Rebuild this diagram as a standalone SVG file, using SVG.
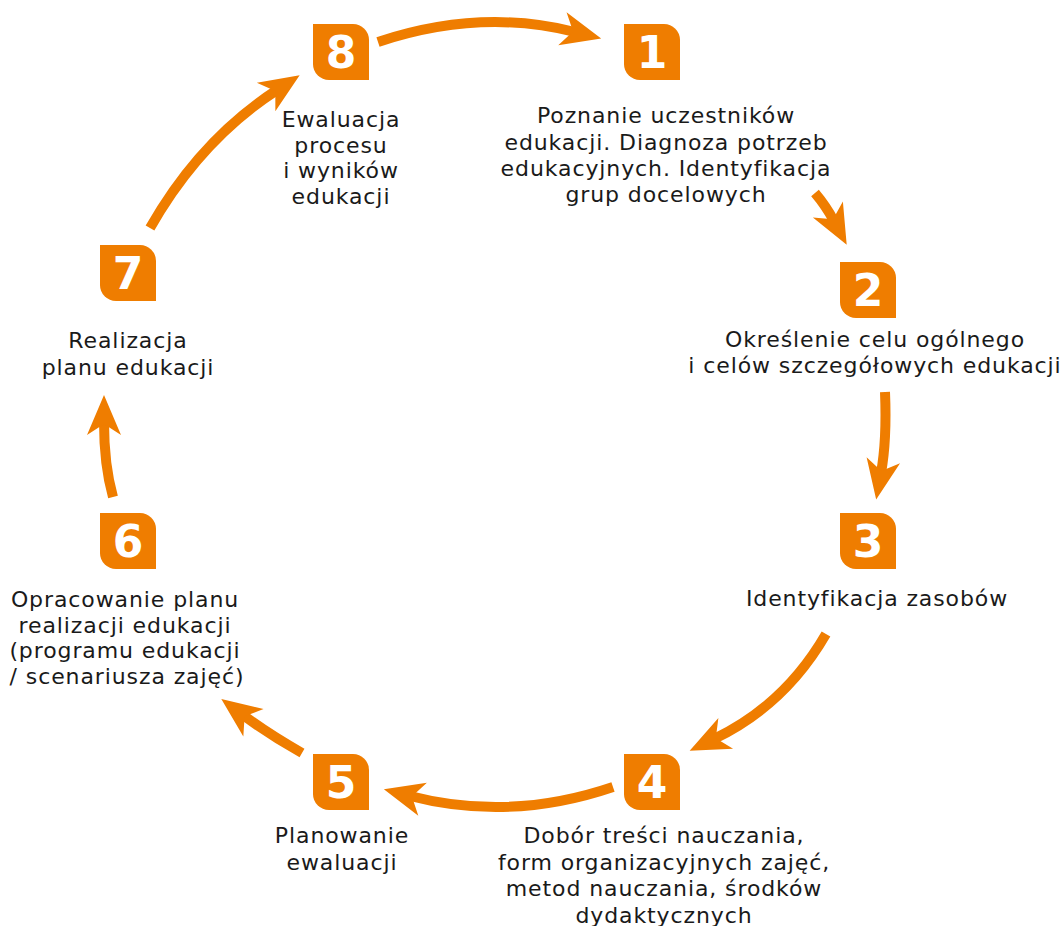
<svg xmlns="http://www.w3.org/2000/svg" xmlns:xlink="http://www.w3.org/1999/xlink" width="1063" height="926" viewBox="0 0 1063 926">
  <style>
    .badge { fill: #EF7D00; }
    .num { font-family: "DejaVu Sans", "Liberation Sans", sans-serif; font-weight: bold; font-size: 44px; fill: #ffffff; text-anchor: middle; }
    .lbl { font-family: "DejaVu Sans", "Liberation Sans", sans-serif; font-size: 22px; letter-spacing: 0.9px; fill: #1a1a1a; text-anchor: middle; }
    .flow { fill: none; stroke: #EF7D00; stroke-width: 10; stroke-linecap: butt; marker-end: url(#head); }
  </style>
  <defs>
    <!-- badge: square with rounded top-right and bottom-left corners -->
    <path id="tile" d="M0,0 H40 A16,16 0 0 1 56,16 V56 H16 A16,16 0 0 1 0,40 Z"/>
    <marker id="head" markerUnits="userSpaceOnUse" viewBox="-44 -22 48 44" markerWidth="48" markerHeight="44" refX="-27" refY="0" orient="auto">
      <path d="M0,0 L-40,-17 L-29,0 L-40,17 Z" fill="#EF7D00"/>
    </marker>
  </defs>
  <rect width="1063" height="926" fill="#ffffff"/>

  <g id="connectors">
    <path class="flow" d="M378,42 Q480,8 575,32"/>
    <path class="flow" d="M815,193 Q826,206 834,221"/>
    <path class="flow" d="M885,392 Q887,440 881,473"/>
    <path class="flow" d="M826,634 Q785,705 714,739"/>
    <path class="flow" d="M613,787 Q510,822 410,796"/>
    <path class="flow" d="M302,753 Q270,735 243,715"/>
    <path class="flow" d="M113,497 Q104,465 104,422"/>
    <path class="flow" d="M150,228 Q200,140 277,90"/>
  </g>

  <g id="step1">
    <use xlink:href="#tile" x="624" y="24" class="badge"/>
    <text class="num" x="652" y="68">1</text>
    <text class="lbl" x="666" y="123">Poznanie uczestników</text>
    <text class="lbl" x="666" y="149.5">edukacji. Diagnoza potrzeb</text>
    <text class="lbl" x="666" y="176">edukacyjnych. Identyfikacja</text>
    <text class="lbl" x="666" y="202">grup docelowych</text>
  </g>

  <g id="step2">
    <use xlink:href="#tile" x="840" y="262" class="badge"/>
    <text class="num" x="868" y="306">2</text>
    <text class="lbl" x="875" y="347">Określenie celu ogólnego</text>
    <text class="lbl" x="875" y="373">i celów szczegółowych edukacji</text>
  </g>

  <g id="step3">
    <use xlink:href="#tile" x="840" y="513" class="badge"/>
    <text class="num" x="868" y="557">3</text>
    <text class="lbl" x="877" y="606">Identyfikacja zasobów</text>
  </g>

  <g id="step4">
    <use xlink:href="#tile" x="624" y="754" class="badge"/>
    <text class="num" x="652" y="798">4</text>
    <text class="lbl" x="664" y="843">Dobór treści nauczania,</text>
    <text class="lbl" x="664" y="869.5">form organizacyjnych zajęć,</text>
    <text class="lbl" x="664" y="896">metod nauczania, środków</text>
    <text class="lbl" x="664" y="922.5">dydaktycznych</text>
  </g>

  <g id="step5">
    <use xlink:href="#tile" x="313" y="754" class="badge"/>
    <text class="num" x="341" y="798">5</text>
    <text class="lbl" x="342" y="843">Planowanie</text>
    <text class="lbl" x="342" y="869.5">ewaluacji</text>
  </g>

  <g id="step6">
    <use xlink:href="#tile" x="100" y="513" class="badge"/>
    <text class="num" x="128" y="557">6</text>
    <text class="lbl" x="125" y="607">Opracowanie planu</text>
    <text class="lbl" x="125" y="632.5">realizacji edukacji</text>
    <text class="lbl" x="125" y="658">(programu edukacji</text>
    <text class="lbl" x="127" y="683.5">/ scenariusza zajęć)</text>
  </g>

  <g id="step7">
    <use xlink:href="#tile" x="100" y="245" class="badge"/>
    <text class="num" x="128" y="289">7</text>
    <text class="lbl" x="128" y="348">Realizacja</text>
    <text class="lbl" x="128" y="375">planu edukacji</text>
  </g>

  <g id="step8">
    <use xlink:href="#tile" x="313" y="24" class="badge"/>
    <text class="num" x="341" y="68">8</text>
    <text class="lbl" x="341" y="127">Ewaluacja</text>
    <text class="lbl" x="341" y="152.5">procesu</text>
    <text class="lbl" x="341" y="178">i wyników</text>
    <text class="lbl" x="341" y="203.5">edukacji</text>
  </g>
</svg>
